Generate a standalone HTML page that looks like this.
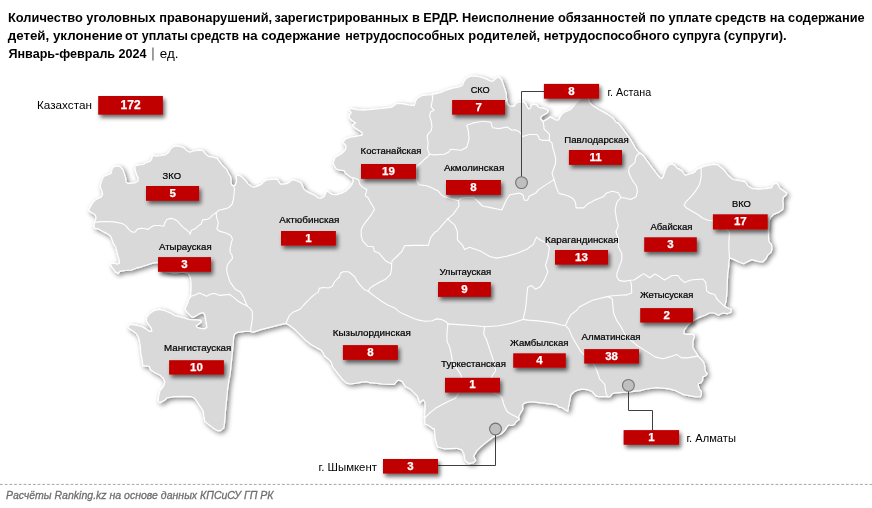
<!DOCTYPE html>
<html lang="ru"><head><meta charset="utf-8"><title>Карта</title>
<style>
html,body{margin:0;padding:0;background:#fff;}
body{width:872px;height:508px;overflow:hidden;position:relative;}
svg{position:absolute;left:0;top:0;display:block;will-change:transform;}
text{font-family:'Liberation Sans', Arial, sans-serif;}
</style></head><body>
<svg width="872" height="508" viewBox="0 0 872 508">
<defs>
<filter id="msh" x="-5%" y="-5%" width="110%" height="110%">
<feGaussianBlur in="SourceAlpha" stdDeviation="2.8"/>
<feOffset dx="2" dy="2.4" result="b"/>
<feComponentTransfer><feFuncA type="linear" slope="0.5"/></feComponentTransfer>
<feMerge><feMergeNode/><feMergeNode in="SourceGraphic"/></feMerge>
</filter>
<filter id="bsh" x="-20%" y="-40%" width="140%" height="190%">
<feGaussianBlur in="SourceAlpha" stdDeviation="2.1"/>
<feOffset dx="2.2" dy="2.8" result="b"/>
<feComponentTransfer><feFuncA type="linear" slope="0.6"/></feComponentTransfer>
<feMerge><feMergeNode/><feMergeNode in="SourceGraphic"/></feMerge>
</filter>
</defs>

<text x="8.0" y="22" font-size="13" font-weight="bold" fill="#000" textLength="264.1" lengthAdjust="spacingAndGlyphs">Количество уголовных правонарушений,</text>
<text x="274.6" y="22" font-size="13" font-weight="bold" fill="#000" textLength="184.1" lengthAdjust="spacingAndGlyphs">зарегистрированных в ЕРДР.</text>
<text x="462.1" y="22" font-size="13" font-weight="bold" fill="#000" textLength="250.0" lengthAdjust="spacingAndGlyphs">Неисполнение обязанностей по уплате</text>
<text x="715.0" y="22" font-size="13" font-weight="bold" fill="#000" textLength="149.6" lengthAdjust="spacingAndGlyphs">средств на содержание</text>
<text x="7.7" y="40" font-size="13" font-weight="bold" fill="#000" textLength="115.0" lengthAdjust="spacingAndGlyphs">детей, уклонение</text>
<text x="124.9" y="40" font-size="13" font-weight="bold" fill="#000" textLength="63.1" lengthAdjust="spacingAndGlyphs">от уплаты</text>
<text x="190.2" y="40" font-size="13" font-weight="bold" fill="#000" textLength="48.9" lengthAdjust="spacingAndGlyphs">средств</text>
<text x="242.3" y="40" font-size="13" font-weight="bold" fill="#000" textLength="98.0" lengthAdjust="spacingAndGlyphs">на содержание</text>
<text x="345.2" y="40" font-size="13" font-weight="bold" fill="#000" textLength="119.3" lengthAdjust="spacingAndGlyphs">нетрудоспособных</text>
<text x="468.3" y="40" font-size="13" font-weight="bold" fill="#000" textLength="201.3" lengthAdjust="spacingAndGlyphs">родителей, нетрудоспособного</text>
<text x="672.6" y="40" font-size="13" font-weight="bold" fill="#000" textLength="47.8" lengthAdjust="spacingAndGlyphs">супруга</text>
<text x="723.8" y="40" font-size="13" font-weight="bold" fill="#000" textLength="62.8" lengthAdjust="spacingAndGlyphs">(супруги).</text>
<text x="8.5" y="58" font-size="13" font-weight="bold" fill="#000" textLength="138" lengthAdjust="spacingAndGlyphs">Январь-февраль 2024</text>
<rect x="152.2" y="47.5" width="1.5" height="13" fill="#7f7f7f"/>
<text x="159.8" y="58" font-size="13" fill="#000" textLength="18.7" lengthAdjust="spacingAndGlyphs">ед.</text>
<g filter="url(#msh)"><path d="M144.7,163.2 L150.2,161.3 L151.8,158.9 L152.6,155.4 L155.7,156.1 L160.5,155.7 L166.0,154.6 L169.1,151.8 L170.7,148.7 L173.1,146.7 L177.0,145.9 L180.9,146.7 L184.1,147.9 L186.5,150.2 L189.6,152.2 L193.5,151.0 L200.0,150.2 L202.9,150.7 L205.2,153.7 L208.4,156.4 L213.1,157.2 L217.0,158.4 L220.2,162.3 L223.3,166.3 L226.5,169.4 L228.1,172.6 L230.4,176.5 L231.2,179.6 L230.9,182.8 L232.2,185.6 L235.0,185.4 L236.7,181.2 L236.3,178.1 L236.7,175.3 L239.1,175.3 L242.2,177.3 L245.4,180.4 L247.8,183.6 L250.5,185.7 L253.7,187.3 L257.6,186.1 L261.5,184.2 L263.9,181.8 L266.7,179.8 L271.8,179.4 L276.9,179.1 L278.9,181.8 L280.4,184.2 L283.6,184.2 L287.5,183.4 L290.7,181.0 L293.0,179.8 L297.0,181.0 L300.9,182.6 L302.5,185.7 L303.7,188.9 L306.3,191.1 L310.2,193.1 L314.2,195.0 L318.1,197.8 L321.3,198.2 L324.4,196.2 L326.0,192.3 L327.6,191.1 L329.9,193.1 L333.1,194.6 L337.0,194.6 L341.7,193.1 L346.5,190.7 L349.6,187.6 L352.0,184.4 L353.5,180.5 L352.8,178.5 L348.8,175.7 L345.7,173.4 L344.1,170.6 L339.4,170.2 L336.2,168.7 L334.6,166.3 L333.1,163.1 L335.2,157.5 L341.6,153.7 L345.5,149.9 L346.1,146.0 L342.9,142.2 L345.5,139.0 L350.6,137.1 L355.7,136.4 L362.1,135.2 L362.1,132.6 L358.2,130.1 L354.4,127.5 L352.5,124.9 L355.7,123.0 L351.9,120.5 L349.3,117.9 L349.3,115.3 L351.2,112.8 L349.3,109.6 L350.6,108.3 L357.0,109.6 L363.4,110.2 L376.2,109.0 L386.3,108.0 L391.8,107.2 L396.5,103.6 L402.0,103.6 L408.3,104.8 L414.3,105.6 L415.4,101.3 L417.8,97.7 L421.7,95.7 L427.2,95.0 L432.0,94.6 L436.7,93.4 L440.0,92.6 L447.5,89.7 L453.7,87.9 L459.0,87.0 L462.6,85.3 L463.5,82.2 L466.1,78.6 L469.7,76.4 L475.0,76.0 L480.3,76.9 L485.6,78.6 L490.9,81.3 L493.6,80.8 L496.2,78.2 L498.9,77.3 L501.5,79.5 L502.9,83.5 L504.6,88.4 L506.0,92.8 L506.4,97.2 L506.9,101.7 L508.6,105.2 L507.1,104.0 L509.8,106.0 L514.0,106.4 L516.0,103.3 L518.8,101.9 L523.6,101.9 L525.7,104.0 L527.0,106.7 L528.8,109.1 L530.5,108.1 L531.2,105.3 L533.9,104.3 L536.7,105.0 L538.7,107.4 L543.6,108.4 L547.0,109.5 L548.4,110.8 L547.0,112.9 L543.6,115.0 L540.8,117.0 L540.8,119.1 L542.9,121.5 L546.3,119.8 L550.5,117.0 L553.2,118.4 L556.0,120.1 L558.7,119.8 L560.1,117.0 L562.2,113.6 L565.0,111.9 L566.9,111.3 L571.0,109.2 L573.8,105.8 L576.5,102.3 L580.0,99.3 L581.0,97.0 L588.0,97.0 L588.3,99.3 L589.6,102.3 L593.0,105.8 L598.5,109.2 L604.7,112.6 L609.6,115.4 L613.7,118.8 L615.7,122.0 L618.4,123.1 L622.2,128.2 L626.1,133.3 L629.9,138.5 L632.5,142.9 L635.0,147.4 L638.2,151.9 L640.8,153.5 L644.0,156.4 L646.5,160.2 L650.4,165.3 L654.2,170.4 L658.0,175.5 L661.2,178.7 L663.2,176.8 L665.7,169.2 L668.3,165.3 L672.0,164.0 L674.4,165.2 L677.6,168.4 L681.5,170.4 L683.5,173.1 L685.5,175.3 L688.6,174.3 L692.6,173.1 L694.9,171.9 L696.5,169.6 L698.9,168.4 L700.8,168.0 L703.6,166.4 L707.5,165.6 L710.7,164.8 L713.8,164.3 L717.8,164.8 L720.1,166.8 L723.3,169.2 L724.3,170.3 L728.1,175.2 L733.0,179.5 L739.5,180.6 L744.9,181.6 L748.1,186.0 L752.5,188.7 L759.0,189.2 L765.5,188.7 L771.9,187.6 L773.0,184.4 L776.3,183.3 L778.4,184.9 L779.5,188.1 L782.8,190.3 L786.6,193.0 L786.0,195.2 L783.3,197.3 L782.8,201.1 L783.3,205.5 L782.8,209.2 L779.5,211.9 L774.1,214.1 L770.8,217.1 L769.1,220.6 L768.5,230.1 L768.5,237.2 L769.1,241.9 L771.4,244.3 L772.0,249.0 L770.8,252.6 L767.9,254.9 L766.1,258.5 L762.6,262.0 L757.8,261.4 L751.9,259.6 L747.2,262.0 L743.6,263.8 L738.9,262.0 L734.2,259.6 L729.5,257.9 L728.9,262.0 L728.3,270.0 L727.6,273.9 L727.3,282.7 L727.0,291.6 L726.1,300.5 L724.6,306.4 L727.3,307.8 L731.0,309.3 L731.0,312.3 L727.3,313.7 L722.8,313.0 L718.4,315.2 L714.0,313.0 L709.5,313.0 L705.1,315.2 L699.2,317.4 L694.8,319.7 L690.3,322.6 L687.4,325.6 L684.4,330.0 L683.7,333.7 L686.5,334.3 L693.3,334.3 L694.3,336.7 L692.9,341.6 L692.9,347.5 L695.3,351.5 L698.3,356.4 L701.2,359.3 L703.7,362.3 L704.7,366.2 L705.1,370.0 L705.3,371.0 L707.2,373.8 L705.7,375.7 L702.9,376.9 L702.5,380.5 L700.9,382.8 L698.6,383.6 L698.2,385.2 L699.4,389.1 L701.3,391.5 L701.3,394.6 L700.2,397.0 L694.6,396.6 L683.6,394.6 L675.7,390.7 L667.9,388.7 L656.4,387.7 L646.3,389.0 L640.0,390.6 L633.4,391.3 L628.3,392.0 L622.4,392.4 L615.0,392.9 L612.3,393.8 L610.0,396.6 L608.2,397.0 L605.9,396.6 L598.5,396.6 L595.8,395.6 L592.1,391.5 L587.5,389.7 L582.0,389.2 L577.4,390.1 L573.8,392.0 L571.0,394.7 L570.1,398.9 L569.2,403.4 L568.3,408.0 L567.8,411.2 L565.5,409.9 L562.8,408.0 L560.0,407.1 L559.1,407.2 L556.2,404.8 L549.3,403.8 L541.4,402.8 L532.5,401.8 L530.5,401.8 L524.6,402.8 L522.7,404.8 L522.7,409.7 L520.7,412.7 L518.7,416.6 L519.2,419.6 L516.3,421.5 L514.3,424.5 L511.8,425.5 L508.9,425.0 L506.9,426.9 L504.9,430.4 L502.0,433.3 L499.5,434.8 L493.8,436.6 L487.4,441.4 L481.0,446.7 L476.8,450.9 L473.6,456.3 L475.7,460.5 L473.6,462.6 L469.3,463.7 L465.1,460.5 L464.0,454.1 L461.9,449.9 L456.6,448.3 L443.8,448.8 L437.4,446.7 L435.3,439.3 L434.3,428.6 L432.8,428.7 L429.2,425.7 L425.1,424.0 L424.5,418.0 L425.1,409.8 L425.1,402.7 L423.3,399.7 L419.8,402.7 L417.4,396.2 L413.9,392.7 L410.3,389.1 L405.6,386.8 L402.1,381.4 L398.5,380.0 L396.6,381.5 L394.3,384.4 L389.7,384.4 L382.4,384.0 L375.0,383.1 L369.5,382.6 L366.8,381.7 L362.2,382.2 L356.7,383.1 L350.3,384.0 L346.6,383.1 L342.9,379.9 L339.3,375.3 L335.6,370.7 L332.8,367.0 L331.5,362.9 L330.1,360.6 L327.3,358.3 L324.6,356.0 L322.8,352.3 L320.9,350.0 L316.3,347.6 L310.9,344.4 L306.5,341.1 L301.1,335.7 L295.7,330.3 L290.3,326.0 L286.0,323.3 L279.5,324.9 L270.8,327.1 L260.0,329.8 L259.2,330.3 L252.3,332.3 L250.3,331.3 L244.4,331.3 L237.5,332.3 L234.6,334.2 L233.6,337.2 L233.1,344.8 L232.1,354.6 L231.1,364.5 L230.1,374.3 L229.1,379.0 L227.6,388.8 L226.6,399.7 L225.5,410.5 L224.7,421.4 L223.8,427.9 L220.6,430.6 L217.3,430.6 L213.0,427.9 L208.7,424.6 L204.9,421.4 L203.8,416.0 L203.3,411.6 L201.6,408.4 L200.0,406.2 L197.8,402.6 L194.4,398.0 L191.0,396.7 L182.9,396.3 L173.8,396.7 L166.9,398.0 L164.6,400.3 L160.0,402.6 L158.1,401.5 L158.7,396.0 L160.1,390.5 L163.6,386.3 L164.9,382.2 L163.6,378.7 L160.1,375.3 L154.6,372.5 L150.5,369.8 L149.1,366.3 L142.9,365.7 L142.2,360.2 L140.8,353.3 L140.2,345.0 L138.8,338.2 L136.7,334.1 L133.3,331.3 L129.1,328.6 L127.8,326.5 L130.5,324.4 L136.0,325.1 L141.5,326.5 L145.7,328.6 L149.1,331.3 L151.9,331.3 L151.2,327.9 L148.4,324.4 L146.3,320.3 L147.0,316.9 L149.8,313.4 L153.9,310.7 L159.4,309.3 L165.0,310.6 L170.9,313.2 L175.2,315.7 L180.2,317.0 L185.3,318.2 L188.7,319.5 L192.9,319.9 L197.1,319.9 L200.5,320.3 L201.0,322.0 L198.8,324.1 L196.3,325.8 L197.1,327.5 L200.5,328.4 L204.8,328.8 L206.9,327.5 L206.5,324.1 L205.6,319.1 L204.8,314.8 L203.1,312.7 L199.7,313.6 L196.3,315.7 L192.9,317.4 L190.4,315.7 L187.0,312.3 L184.9,308.9 L186.2,306.4 L187.8,303.0 L188.7,299.6 L190.4,297.1 L191.1,290.0 L191.1,283.5 L190.3,277.0 L187.9,273.0 L183.0,272.2 L173.3,273.0 L165.0,271.5 L157.9,262.3 L152.5,263.2 L147.1,265.0 L141.6,266.8 L136.2,268.2 L131.7,270.0 L125.3,270.5 L119.9,271.4 L118.1,273.6 L115.4,271.8 L113.6,269.1 L111.3,266.4 L110.4,263.7 L113.6,263.2 L117.2,264.1 L119.5,263.2 L119.0,259.1 L117.6,254.6 L116.7,251.0 L115.8,247.4 L113.6,243.8 L112.2,240.1 L110.9,236.5 L108.1,234.3 L104.5,232.4 L102.8,231.5 L98.0,228.7 L94.8,228.3 L94.0,225.1 L94.8,221.9 L96.0,218.6 L95.6,215.4 L93.5,213.7 L90.3,211.7 L88.3,210.3 L90.3,206.9 L92.4,203.4 L94.5,200.7 L97.9,198.6 L101.3,196.9 L102.7,194.5 L102.0,191.0 L100.3,187.6 L100.7,184.1 L102.0,180.0 L103.7,176.5 L107.6,175.0 L111.2,173.4 L112.0,169.4 L113.1,167.1 L117.1,165.9 L120.2,166.7 L122.6,169.4 L124.2,173.4 L125.7,178.1 L126.1,182.0 L128.1,183.6 L131.2,183.2 L135.2,182.8 L137.9,181.3 L138.3,178.1 L136.8,175.0 L135.2,170.2 L134.8,166.3 L137.5,165.1 L144.0,164.3 Z" fill="#d9d9d9" stroke="#ffffff" stroke-width="1.2" stroke-linejoin="round"/></g>
<g fill="none" stroke="#ffffff" stroke-width="1.1" stroke-linejoin="round" stroke-linecap="round">
<polyline points="94.8,222.5 98.0,221.9 106.1,221.5 114.1,221.9 122.1,223.5 126.1,225.9 128.5,229.1 131.7,231.9 134.9,232.3 137.4,229.1 141.4,228.3 145.4,228.7 147.8,229.5 151.0,227.1 154.2,225.5 159.5,225.5 163.9,226.2 164.7,222.9 166.9,219.5 170.6,218.4 174.4,219.2 177.4,221.0 180.3,224.4 183.3,227.4 187.0,230.3 189.7,232.6 190.0,234.4 191.5,230.3 195.2,228.8 198.2,225.9 201.2,224.0 202.7,219.9 207.2,219.2 210.1,218.0 212.4,215.1 216.1,212.8"/>
<polyline points="216.1,212.8 218.3,210.6 220.0,209.8 222.0,209.6 228.5,207.8 232.2,204.0 233.6,198.5 234.5,189.3 233.6,185.6"/>
<polyline points="216.1,212.8 216.8,218.4 218.3,222.1 217.6,226.6 216.8,228.8 219.1,231.1 226.0,233.0 230.7,235.4 232.5,238.9 231.3,243.1 230.1,247.8 230.1,252.5 231.9,254.9 232.5,258.4 229.5,261.9 227.2,265.5 226.6,270.0 227.4,273.8 229.9,281.8 234.7,288.3 236.5,290.0 240.5,292.0 243.4,296.9 245.4,301.8 246.9,305.7"/>
<polyline points="190.5,296.6 194.9,294.9 199.3,293.1 202.9,294.5 206.4,296.2 210.9,294.0 214.9,293.4 219.8,295.4 229.7,294.4 233.6,297.4 237.5,300.8 242.4,303.8 246.9,305.7"/>
<polyline points="246.9,305.7 250.3,308.7 252.3,311.6 252.3,319.5 251.3,325.4 250.5,331.3"/>
<polyline points="286.0,323.3 287.6,319.5 289.2,315.7 293.5,311.9 300.0,309.2 303.7,305.0 307.3,301.3 311.9,296.7 314.7,294.4 318.3,292.1 319.3,288.4 322.9,287.5 328.4,288.0 332.1,286.6 334.4,282.0 336.7,279.3 339.4,277.0 340.4,273.3 343.1,271.7 348.6,271.7 351.4,273.8 355.0,277.0 356.9,281.1 360.6,285.7 364.2,289.4 368.3,291.2"/>
<polyline points="368.3,291.2 369.7,288.4 373.4,285.7 380.0,282.0 385.9,278.9 390.5,274.3 391.6,268.6 391.6,264.0"/>
<polyline points="368.3,291.2 370.0,292.8 375.5,296.9 381.9,301.5 388.3,305.2 394.8,307.9 398.4,311.1 402.1,313.4 406.7,315.3 411.3,317.6 417.7,319.9 425.0,321.2 432.4,320.8 436.1,318.9 441.6,319.4 446.1,321.7 447.9,323.9"/>
<polyline points="447.9,323.9 462.6,324.9 475.4,325.8 484.6,326.7 499.3,325.8 512.1,323.0 523.1,319.4"/>
<polyline points="447.9,323.9 447.0,332.2 447.0,341.4 449.7,346.9 451.6,356.1 452.5,363.4 457.1,368.9 460.7,374.4 462.0,380.0 460.5,388.0 458.7,392.9 455.0,398.6 449.3,400.9 442.2,404.5 435.1,408.6 429.2,413.3 424.7,418.0"/>
<polyline points="484.6,326.7 483.7,334.0 486.4,339.5 490.1,350.6 493.8,361.6 495.6,370.7 491.9,376.2 490.1,383.2 494.0,392.9 500.0,395.9 502.0,397.9 503.9,404.8 506.9,411.2 510.8,414.1 514.8,416.1 518.9,418.2"/>
<polyline points="523.1,319.4 524.8,312.5 526.0,305.0 526.8,296.1 527.7,287.2 531.7,285.6 535.5,289.3 540.6,286.4 544.6,279.9 547.9,271.8 545.4,265.4 547.9,257.3 549.5,247.6 546.2,242.8 540.6,240.3 536.5,237.1 533.3,244.4 526.8,249.2 517.2,253.3 505.8,256.5 496.2,258.1 489.7,256.5 480.8,251.2 469.5,247.2 464.6,249.6 462.2,244.8 457.4,239.9 457.4,231.8 454.9,225.4 447.7,218.9"/>
<polyline points="447.7,218.9 442.0,225.4 437.2,231.0 435.2,231.9 430.6,237.6 428.3,245.4 414.5,245.4 404.8,245.6 401.9,251.4 397.3,256.0 392.2,260.6 391.6,264.0"/>
<polyline points="391.6,264.0 385.9,261.1 382.4,257.1 379.0,253.1 374.4,251.4 373.3,246.8 367.5,246.2 362.9,241.1 361.2,236.5 361.2,229.6 363.5,225.0 366.3,221.4 371.2,214.9 372.8,212.0 374.4,209.6 373.6,207.3 370.5,202.6 368.1,197.8 365.4,195.9 365.7,193.9 366.9,189.6 362.6,187.2 359.8,184.4 358.7,179.7 353.1,177.4"/>
<polyline points="447.7,218.9 453.3,214.1 459.0,206.0 458.5,200.8"/>
<polyline points="458.5,200.8 452.0,199.0 444.0,196.6 440.8,194.4 438.6,191.2 433.2,188.5 426.7,185.8 419.1,184.7 416.9,181.4 416.4,176.0 416.4,170.0 416.9,166.3 421.3,162.5 424.5,159.2 427.8,156.5 429.5,154.3"/>
<polyline points="429.5,154.3 427.6,149.3 428.1,142.4 427.1,137.5 427.6,134.6 431.1,130.6 432.0,126.7 431.1,120.8 429.6,115.9 430.6,112.0 434.0,110.2 431.2,106.8 432.0,102.0 432.8,98.1 432.0,94.6"/>
<polyline points="429.5,154.3 434.5,154.9 444.3,154.3 448.8,152.0 450.7,149.3 456.1,149.8 461.0,150.3 465.0,148.3 466.7,147.2 469.1,139.1 468.3,131.0 466.7,125.3 473.2,122.9 482.9,121.3 490.9,122.1 492.5,127.8 499.0,128.6 507.1,127.0 511.9,130.2 515.0,129.8 518.9,131.4 520.9,133.7 522.5,136.5 525.2,135.7 529.2,134.5 537.0,134.5 538.6,136.9 539.4,139.3 542.6,140.4 549.3,140.4"/>
<polyline points="549.3,140.4 549.3,137.7 549.6,134.5 547.3,132.2 544.1,129.0 543.7,125.1 543.1,121.6"/>
<polyline points="549.3,140.4 552.0,143.2 552.8,147.9 554.4,153.4 555.6,158.0 555.5,163.8 552.0,173.4 554.1,179.6"/>
<polyline points="554.1,179.6 546.5,184.4 538.3,189.9 536.2,192.7 529.2,196.3 527.6,200.3 524.4,200.3 522.8,194.7 519.5,193.1 509.9,194.7 506.6,199.5 501.8,210.0 490.5,207.6 482.4,206.0 473.5,197.1 463.5,197.7 460.3,198.8 458.5,200.8"/>
<polyline points="554.1,179.6 556.2,187.2 558.9,193.4 567.2,195.5 572.7,198.2 575.5,202.3 576.1,207.9 583.7,207.9 587.9,203.7 596.1,199.6 603.0,196.8 607.1,192.7 612.6,191.3 618.2,192.7 620.9,197.5"/>
<polyline points="620.9,197.5 626.4,198.2 630.6,199.6 636.1,196.8 637.4,191.3 636.5,186.0 633.5,182.0 630.5,176.8 628.6,171.7 629.3,167.2 632.5,164.7 635.0,162.1 635.7,157.6 637.6,154.4 640.8,153.5"/>
<polyline points="620.9,197.5 616.7,202.5 615.1,210.0 616.7,220.1 618.4,225.9 615.9,231.8 618.4,238.5 618.4,246.8 621.8,253.5 621.8,260.2 619.2,266.9 616.9,273.5 616.9,277.2 619.2,280.4 623.9,281.4 630.2,280.3"/>
<polyline points="630.2,280.3 634.0,280.0 638.5,277.0 643.7,273.6 646.7,275.8 649.7,277.7 654.9,274.0 659.4,276.6 664.6,280.0 669.1,277.3 672.1,275.5 678.1,275.5 680.3,278.8 684.8,282.6 690.0,280.3 693.3,279.8 702.9,279.0 705.8,282.7 706.6,290.8 709.5,293.1 714.7,294.5 716.9,299.0 721.4,303.4 724.6,306.4"/>
<polyline points="630.2,280.3 631.4,284.4 631.7,293.0 626.5,294.9 620.2,295.2 612.8,295.7 607.2,296.6"/>
<polyline points="607.2,296.6 599.8,298.5 592.4,300.3 586.1,303.6 579.2,307.0 576.5,310.5 571.0,314.6 567.5,320.8 565.5,325.6"/>
<polyline points="565.5,325.6 561.3,325.0 553.1,322.9 540.7,321.1 528.3,320.1 523.1,319.4"/>
<polyline points="565.5,325.6 568.9,329.1 572.3,337.3 576.5,344.2 580.6,351.1 587.0,358.0 594.6,365.3 598.5,375.0 599.4,378.7 603.1,382.3 605.0,385.1 605.4,389.7 606.3,394.3 607.9,396.8"/>
<polyline points="607.2,296.6 611.8,298.5 612.4,300.0 613.0,307.1 613.6,313.0 616.5,320.1 621.3,327.2 624.8,334.2 630.7,340.1 637.8,346.0 647.2,351.9 655.0,356.9 662.9,358.8 669.7,356.9 676.6,354.4 681.5,357.9 687.4,357.9 696.3,356.4 698.3,356.4"/>
<polyline points="700.8,168.0 701.2,170.7 701.2,176.3 700.4,181.0 699.3,185.0 696.0,190.4 691.7,195.8 686.3,201.3 684.1,205.0 686.3,207.8 691.7,211.0 698.2,214.8 702.5,218.0 707.9,220.2 712.8,220.8 722.0,225.0 727.5,230.1 729.5,232.5 728.9,240.7 728.9,249.0 729.5,257.9"/>
</g>
<g fill="none" stroke="#3f3f3f" stroke-width="1">
<polyline points="521.5,177 521.5,91.5 544,91.5"/>
<polyline points="628.5,391 628.5,410.5 652.5,410.5 652.5,430.1"/>
<polyline points="495.5,434.9 495.5,465.5 438,465.5"/>
</g>
<circle cx="521.5" cy="182.6" r="5.9" fill="#bfbfbf" stroke="#737373" stroke-width="1.1"/>
<circle cx="628.4" cy="385.4" r="5.9" fill="#bfbfbf" stroke="#737373" stroke-width="1.1"/>
<circle cx="495.5" cy="429.0" r="5.9" fill="#bfbfbf" stroke="#737373" stroke-width="1.1"/>
<g filter="url(#bsh)">
<rect x="98.2" y="96.0" width="64.7" height="18.7" fill="#c00000"/>
<rect x="146.0" y="186.0" width="53.1" height="14.8" fill="#c00000"/>
<rect x="158.0" y="257.1" width="53.0" height="14.7" fill="#c00000"/>
<rect x="169.1" y="360.2" width="54.8" height="14.4" fill="#c00000"/>
<rect x="281.0" y="231.0" width="54.9" height="14.6" fill="#c00000"/>
<rect x="361.0" y="164.0" width="55.0" height="14.9" fill="#c00000"/>
<rect x="446.0" y="180.0" width="54.9" height="14.9" fill="#c00000"/>
<rect x="452.1" y="100.0" width="52.9" height="14.7" fill="#c00000"/>
<rect x="543.9" y="83.9" width="55.2" height="14.8" fill="#c00000"/>
<rect x="568.9" y="150.0" width="53.1" height="14.9" fill="#c00000"/>
<rect x="712.9" y="214.3" width="54.8" height="15.2" fill="#c00000"/>
<rect x="644.2" y="237.3" width="52.6" height="14.5" fill="#c00000"/>
<rect x="555.0" y="250.0" width="53.1" height="14.7" fill="#c00000"/>
<rect x="438.0" y="282.0" width="52.9" height="14.9" fill="#c00000"/>
<rect x="640.2" y="308.1" width="52.8" height="14.5" fill="#c00000"/>
<rect x="584.2" y="349.1" width="54.8" height="14.5" fill="#c00000"/>
<rect x="513.2" y="353.3" width="52.6" height="14.4" fill="#c00000"/>
<rect x="445.0" y="377.8" width="55.0" height="14.8" fill="#c00000"/>
<rect x="342.9" y="345.1" width="55.0" height="14.8" fill="#c00000"/>
<rect x="383.0" y="459.0" width="55.0" height="14.6" fill="#c00000"/>
<rect x="623.6" y="430.1" width="55.5" height="14.7" fill="#c00000"/>
</g>
<text x="130.6" y="109.3" font-size="12.0" font-weight="bold" fill="#fff" stroke="#fff" stroke-width="0.25" text-anchor="middle">172</text>
<text x="172.6" y="196.6" font-size="11.5" font-weight="bold" fill="#fff" stroke="#fff" stroke-width="0.25" text-anchor="middle">5</text>
<text x="184.5" y="267.7" font-size="11.5" font-weight="bold" fill="#fff" stroke="#fff" stroke-width="0.25" text-anchor="middle">3</text>
<text x="196.5" y="370.6" font-size="11.5" font-weight="bold" fill="#fff" stroke="#fff" stroke-width="0.25" text-anchor="middle">10</text>
<text x="308.4" y="241.5" font-size="11.5" font-weight="bold" fill="#fff" stroke="#fff" stroke-width="0.25" text-anchor="middle">1</text>
<text x="388.5" y="174.7" font-size="11.5" font-weight="bold" fill="#fff" stroke="#fff" stroke-width="0.25" text-anchor="middle">19</text>
<text x="473.4" y="190.7" font-size="11.5" font-weight="bold" fill="#fff" stroke="#fff" stroke-width="0.25" text-anchor="middle">8</text>
<text x="478.6" y="110.6" font-size="11.5" font-weight="bold" fill="#fff" stroke="#fff" stroke-width="0.25" text-anchor="middle">7</text>
<text x="571.5" y="94.5" font-size="11.5" font-weight="bold" fill="#fff" stroke="#fff" stroke-width="0.25" text-anchor="middle">8</text>
<text x="595.5" y="160.7" font-size="11.5" font-weight="bold" fill="#fff" stroke="#fff" stroke-width="0.25" text-anchor="middle">11</text>
<text x="740.3" y="225.1" font-size="11.5" font-weight="bold" fill="#fff" stroke="#fff" stroke-width="0.25" text-anchor="middle">17</text>
<text x="670.5" y="247.8" font-size="11.5" font-weight="bold" fill="#fff" stroke="#fff" stroke-width="0.25" text-anchor="middle">3</text>
<text x="581.5" y="260.6" font-size="11.5" font-weight="bold" fill="#fff" stroke="#fff" stroke-width="0.25" text-anchor="middle">13</text>
<text x="464.4" y="292.7" font-size="11.5" font-weight="bold" fill="#fff" stroke="#fff" stroke-width="0.25" text-anchor="middle">9</text>
<text x="666.6" y="318.6" font-size="11.5" font-weight="bold" fill="#fff" stroke="#fff" stroke-width="0.25" text-anchor="middle">2</text>
<text x="611.6" y="359.6" font-size="11.5" font-weight="bold" fill="#fff" stroke="#fff" stroke-width="0.25" text-anchor="middle">38</text>
<text x="539.5" y="363.7" font-size="11.5" font-weight="bold" fill="#fff" stroke="#fff" stroke-width="0.25" text-anchor="middle">4</text>
<text x="472.5" y="388.4" font-size="11.5" font-weight="bold" fill="#fff" stroke="#fff" stroke-width="0.25" text-anchor="middle">1</text>
<text x="370.4" y="355.7" font-size="11.5" font-weight="bold" fill="#fff" stroke="#fff" stroke-width="0.25" text-anchor="middle">8</text>
<text x="410.5" y="469.5" font-size="11.5" font-weight="bold" fill="#fff" stroke="#fff" stroke-width="0.25" text-anchor="middle">3</text>
<text x="651.4" y="440.7" font-size="11.5" font-weight="bold" fill="#fff" stroke="#fff" stroke-width="0.25" text-anchor="middle">1</text>
<text x="162.6" y="179.0" font-size="9.7" fill="#000" stroke="#000" stroke-width="0.22" textLength="18.4" lengthAdjust="spacingAndGlyphs">ЗКО</text>
<text x="159.0" y="250.0" font-size="9.7" fill="#000" stroke="#000" stroke-width="0.22" textLength="52.6" lengthAdjust="spacingAndGlyphs">Атырауская</text>
<text x="164.0" y="351.2" font-size="9.7" fill="#000" stroke="#000" stroke-width="0.22" textLength="67.3" lengthAdjust="spacingAndGlyphs">Мангистауская</text>
<text x="279.3" y="222.9" font-size="9.7" fill="#000" stroke="#000" stroke-width="0.22" textLength="60.0" lengthAdjust="spacingAndGlyphs">Актюбинская</text>
<text x="360.6" y="154.2" font-size="9.7" fill="#000" stroke="#000" stroke-width="0.22" textLength="60.8" lengthAdjust="spacingAndGlyphs">Костанайская</text>
<text x="443.9" y="171.1" font-size="9.7" fill="#000" stroke="#000" stroke-width="0.22" textLength="60.4" lengthAdjust="spacingAndGlyphs">Акмолинская</text>
<text x="470.7" y="93.0" font-size="9.7" fill="#000" stroke="#000" stroke-width="0.22" textLength="19.0" lengthAdjust="spacingAndGlyphs">СКО</text>
<text x="564.3" y="143.0" font-size="9.7" fill="#000" stroke="#000" stroke-width="0.22" textLength="64.4" lengthAdjust="spacingAndGlyphs">Павлодарская</text>
<text x="731.9" y="207.4" font-size="9.7" fill="#000" stroke="#000" stroke-width="0.22" textLength="18.9" lengthAdjust="spacingAndGlyphs">ВКО</text>
<text x="650.4" y="230.0" font-size="9.7" fill="#000" stroke="#000" stroke-width="0.22" textLength="42.1" lengthAdjust="spacingAndGlyphs">Абайская</text>
<text x="545.1" y="243.0" font-size="9.7" fill="#000" stroke="#000" stroke-width="0.22" textLength="73.6" lengthAdjust="spacingAndGlyphs">Карагандинская</text>
<text x="439.4" y="275.1" font-size="9.7" fill="#000" stroke="#000" stroke-width="0.22" textLength="51.9" lengthAdjust="spacingAndGlyphs">Улытауская</text>
<text x="639.9" y="298.4" font-size="9.7" fill="#000" stroke="#000" stroke-width="0.22" textLength="53.4" lengthAdjust="spacingAndGlyphs">Жетысуская</text>
<text x="581.6" y="340.4" font-size="9.7" fill="#000" stroke="#000" stroke-width="0.22" textLength="58.9" lengthAdjust="spacingAndGlyphs">Алматинская</text>
<text x="510.1" y="346.0" font-size="9.7" fill="#000" stroke="#000" stroke-width="0.22" textLength="58.4" lengthAdjust="spacingAndGlyphs">Жамбылская</text>
<text x="441.1" y="367.2" font-size="9.7" fill="#000" stroke="#000" stroke-width="0.22" textLength="64.8" lengthAdjust="spacingAndGlyphs">Туркестанская</text>
<text x="332.8" y="335.8" font-size="9.7" fill="#000" stroke="#000" stroke-width="0.22" textLength="78.0" lengthAdjust="spacingAndGlyphs">Кызылординская</text>
<text x="37" y="109.2" font-size="11.5" fill="#000" textLength="54.9" lengthAdjust="spacingAndGlyphs">Казахстан</text>
<text x="607.5" y="95.8" font-size="11.2" fill="#000" textLength="43.7" lengthAdjust="spacingAndGlyphs">г. Астана</text>
<text x="686.4" y="442" font-size="11.2" fill="#000" textLength="49.5" lengthAdjust="spacingAndGlyphs">г. Алматы</text>
<text x="318.5" y="470.8" font-size="11.2" fill="#000" textLength="58.4" lengthAdjust="spacingAndGlyphs">г. Шымкент</text>
<line x1="0" y1="484.4" x2="872" y2="484.4" stroke="#a6a6a6" stroke-width="1" stroke-dasharray="2.8 1.9"/>
<text x="6" y="498.9" font-size="11" font-style="italic" fill="#6e6e6e" stroke="#6e6e6e" stroke-width="0.3" textLength="267.5" lengthAdjust="spacingAndGlyphs">Расчёты Ranking.kz на основе данных КПСиСУ ГП РК</text>
</svg></body></html>
